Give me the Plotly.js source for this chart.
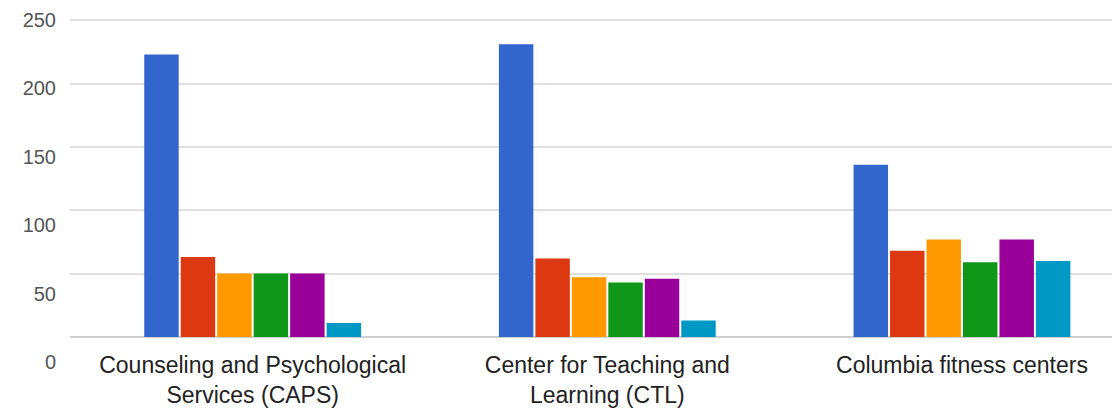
<!DOCTYPE html>
<html>
<head>
<meta charset="utf-8">
<script src="https://cdn.plot.ly/plotly-3.0.1.min.js"></script>
<style>html,body{margin:0;padding:0;background:#fff;}#chart{width:1112px;height:411px;}</style>
</head>
<body>
<div id="chart"></div>
<script>
var categories = ["Counseling and Psychological<br>Services (CAPS)", "Center for Teaching and<br>Learning (CTL)", "Columbia fitness centers"];
var seriesNames = ["Series 1", "Series 2", "Series 3", "Series 4", "Series 5", "Series 6"];
var series1 = [223, 231, 136];
var series2 = [63, 62, 68];
var series3 = [50, 47, 77];
var series4 = [50, 43, 59];
var series5 = [50, 46, 77];
var series6 = [11, 13, 60];
var yTicks = [0, 50, 100, 150, 200, 250];
var yTickLabels = ["0", "50", "100", "150", "200", "250"];

var colors = ["#3366cc", "#dc3912", "#ff9900", "#109618", "#990099", "#0099c6"];
var allSeries = [series1, series2, series3, series4, series5, series6];

var traces = allSeries.map(function (vals, i) {
  return {
    type: "bar",
    x: categories,
    y: vals,
    name: seriesNames[i],
    marker: {color: colors[i]},
    hoverinfo: "x+y+name"
  };
});
// empty helper trace so the label axis (yaxis2) is drawn; it has no marks
traces.push({type: "scatter", x: [], y: [], yaxis: "y2", showlegend: false, hoverinfo: "skip"});

var font = "Arial, 'Liberation Sans', sans-serif";
var layout = {
  width: 1112,
  height: 411,
  margin: {l: 70, r: 0, t: 19, b: 41, pad: 0},
  paper_bgcolor: "#ffffff",
  plot_bgcolor: "rgba(0,0,0,0)",
  showlegend: false,
  barmode: "group",
  bargap: 0.383,
  bargroupgap: 0.055,
  xaxis: {
    type: "category",
    range: [-0.515, 2.423],
    showgrid: false,
    zeroline: false,
    showline: false,
    ticks: "",
    ticklabelstandoff: 12,
    tickfont: {family: font, size: 23, color: "#222222"},
    fixedrange: true
  },
  yaxis: {
    domain: [0.0943, 1],
    range: [0, 251],
    tickvals: yTicks,
    showticklabels: false,
    ticks: "",
    showgrid: true,
    gridcolor: "#e0e0e0",
    gridwidth: 2,
    zeroline: true,
    zerolinecolor: "#cfcfcf",
    zerolinewidth: 2,
    showline: false,
    fixedrange: true
  },
  yaxis2: {
    anchor: "free",
    position: 0,
    side: "left",
    domain: [0.02286, 0.99714],
    range: [0, 250],
    tickvals: yTicks,
    ticktext: yTickLabels,
    showgrid: false,
    zeroline: false,
    showline: false,
    ticks: "",
    ticklabelstandoff: 14,
    tickfont: {family: font, size: 20, color: "#555555"},
    fixedrange: true
  }
};

Plotly.newPlot("chart", traces, layout, {displayModeBar: false, staticPlot: true});
</script>
</body>
</html>
